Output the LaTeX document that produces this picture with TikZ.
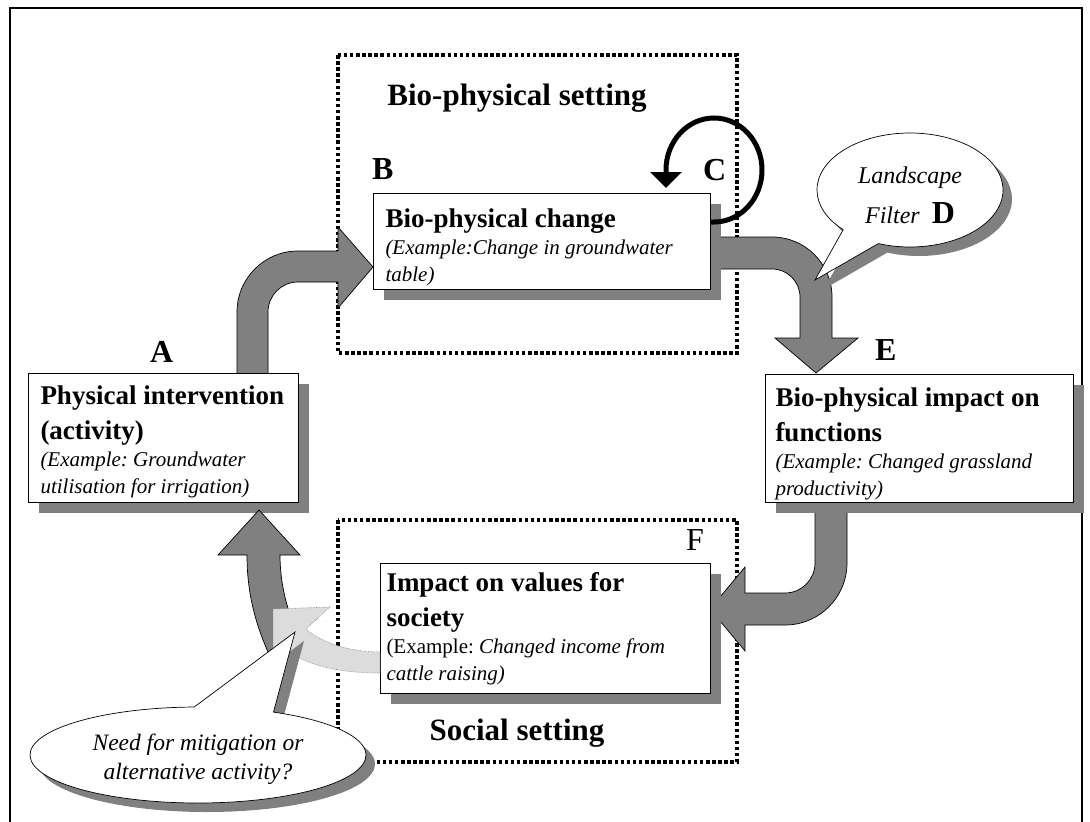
\documentclass[tikz,border=0pt]{standalone}
\usepackage{fontspec}
\setmainfont{Liberation Serif}
\usetikzlibrary{arrows.meta,shapes.callouts,shadows}

\definecolor{shadegray}{HTML}{808080}
\definecolor{flowgray}{HTML}{808080}
\definecolor{altgray}{HTML}{DCDCDC}

% font sizes, with the normal word space of each font
\newcommand{\normspace}{\spaceskip=0pt\xspaceskip=0pt\frenchspacing\relax}
\newcommand{\hdfont}{\fontsize{27}{35}\selectfont\bfseries\normspace}
\newcommand{\exfont}{\fontsize{21}{27}\selectfont\itshape\normspace}
\newcommand{\exrmfont}{\fontsize{21}{27}\selectfont\normspace}
\newcommand{\letterfont}{\fontsize{32}{36}\selectfont}
\newcommand{\topgap}[1]{\rule{0pt}{#1}} % pushes the text down in its box

\tikzset{
  stepbox/.style={draw, line width=1pt, fill=white, anchor=north west, align=left, inner ysep=0pt,
                  drop shadow={shadow xshift=10pt, shadow yshift=-10pt, fill=shadegray, opacity=1}},
  setting/.style={line width=3.5pt, dash pattern=on 3.5pt off 2.6pt},
  flow/.style={fill=flowgray, draw=black, line width=0.7pt},
  altflow/.style={fill=altgray, draw=gray, densely dotted, line width=0.6pt},
  letter/.style={font=\letterfont\bfseries, anchor=base west, inner sep=0pt},
  settinglbl/.style={font=\fontsize{31}{34}\selectfont\bfseries, anchor=base, inner sep=0pt},
  bubble/.style={ellipse callout, draw, line width=0.7pt, fill=white, inner sep=0pt, align=center,
                 drop shadow={shadow xshift=9pt, shadow yshift=-9pt, fill=shadegray, opacity=1}},
}

\begin{document}
\begin{tikzpicture}[x=1pt, y=-1pt]
  \useasboundingbox (0,0) rectangle (1090,822);
  \draw[line width=1.5pt] (10,822) -- (10,8) -- (1082,8) -- (1082,822);

  % settings
  \draw[setting] (338,55) rectangle (737,353);
  \draw[setting] (338,520) rectangle (737,762);
  \node[settinglbl] (bioset) at (517,105) {Bio-physical setting};
  \node[settinglbl] (socset) at (517,740) {Social setting};

  % block arrows behind the boxes
  \draw[flow] (237,380) -- (237,312) arc[start angle=180, end angle=270, radius=61] -- (338,251)
    -- (338,227) -- (373,267) -- (338,308) -- (338,282) -- (298,282)
    arc[start angle=270, end angle=180, radius=30] -- (268,380) -- cycle;
  \draw[flow] (700,237) -- (772,237) arc[start angle=270, end angle=360, radius=60] -- (832,338)
    -- (858,338) -- (816,373) -- (775,338) -- (800,338) -- (800,297)
    arc[start angle=0, end angle=-90, radius=28] -- (700,269) -- cycle;
  \draw[flow] (847,495) -- (847,563) arc[start angle=0, end angle=90, radius=62] -- (745,625)
    -- (745,651) -- (710,609) -- (745,567) -- (745,593) -- (785,593)
    arc[start angle=90, end angle=0, radius=30] -- (815,495) -- cycle;

  \node[stepbox, inner xsep=12pt, text width=246pt, minimum height=129pt] (act) at (28,373)
    {{\hdfont\topgap{27pt}Physical~intervention\\(activity)\par}{\exfont (Example: Groundwater\\utilisation for irrigation)\par}};
  \node[stepbox, inner xsep=12pt, text width=313pt, minimum height=96pt] (chg) at (373,193)
    {{\hdfont\topgap{31pt}Bio-physical change\par}{\exfont (Example:Change in groundwater\\table)\par}};
  \node[stepbox, inner xsep=10pt, text width=288pt, minimum height=128pt] (func) at (765,374)
    {{\hdfont\topgap{30pt}Bio-physical impact on\\functions\par}{\exfont (Example: Changed grassland\\productivity)\par}};
  \node[stepbox, inner xsep=6pt, text width=318pt, minimum height=130pt] (soc) at (380,563)
    {{\hdfont Impact on values for\\society\par}{\exrmfont (Example: \itshape Changed income from\\cattle raising)\par}};

  % back to the activity
  \draw[flow] (268,652) .. controls (254,620) and (247,590) .. (247,555) -- (218,555) -- (259,510)
    -- (300,555) -- (280,555) .. controls (280,585) and (288,618) .. (304,645) -- cycle;
  \draw[altflow] (273,609) -- (330,607) -- (306,629) .. controls (322,643) and (350,652) .. (380,652)
    -- (380,673) .. controls (336,673) and (302,664) .. (285,648) -- (273,652) -- cycle;

  % feedback loop C
  \draw[line width=5pt, -{Triangle[length=16pt, width=31pt]}] (710,222) -- (714,222)
    arc[start angle=90, end angle=-180, x radius=48, y radius=52] -- ++(0,18);

  \node[letter] (labA) at (150,362) {A};
  \node[letter] (labB) at (372,179) {B};
  \node[letter] (labC) at (703,180) {C};
  \node[letter] (labE) at (875,360) {E};
  \node[letter, font=\letterfont] (labF) at (686,550) {F};

  % callouts
  \node[bubble, minimum width=186pt, minimum height=114pt, callout pointer arc=26,
        callout absolute pointer={(815,280)}, font=\fontsize{24}{40}\selectfont\itshape\normspace] (filter) at (910,190)
    {\topgap{28pt}Landscape\\Filter\ \ {\letterfont\bfseries\upshape D}};
  \node[bubble, minimum width=336pt, minimum height=96pt, callout pointer arc=28,
        callout absolute pointer={(295,632)}, font=\fontsize{23.5}{29}\selectfont\itshape\normspace] (need) at (198,755)
    {\topgap{26pt}Need for mitigation or\\alternative activity?};
\end{tikzpicture}
\end{document}
